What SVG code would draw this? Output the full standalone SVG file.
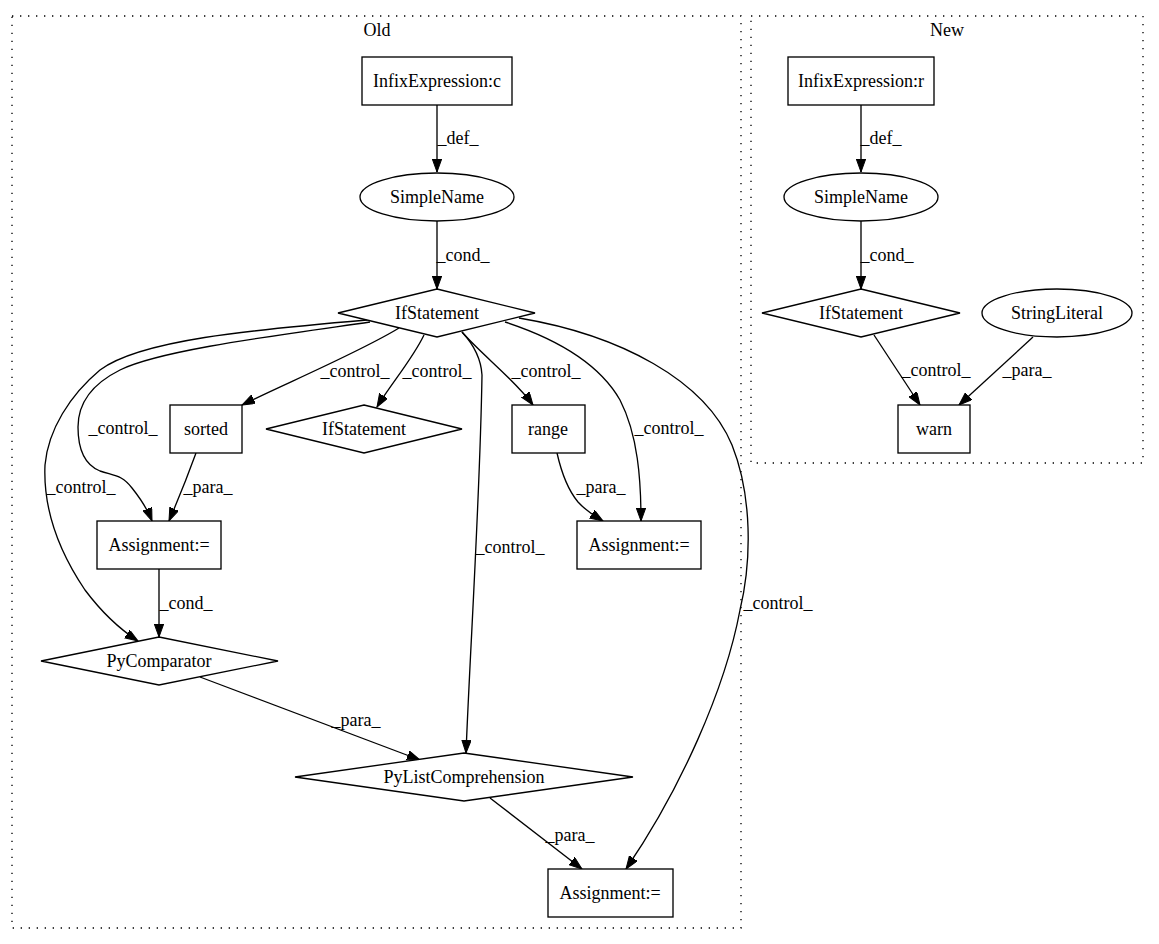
<svg xmlns="http://www.w3.org/2000/svg" width="1159" height="944" viewBox="0 0 1159 944">
<style>
text{font-family:"Liberation Serif","Times New Roman",serif;font-size:18px;fill:#000;text-anchor:middle}
.n{fill:#fff;stroke:#000;stroke-width:1.33}
.c{fill:none;stroke:#000;stroke-width:1.33;stroke-dasharray:1.33,6.67}
.e{fill:none;stroke:#000;stroke-width:1.33;marker-end:url(#a)}
</style>
<defs>
<marker id="a" markerUnits="userSpaceOnUse" markerWidth="14" markerHeight="10" refX="13" refY="4.7" orient="auto">
<path d="M0,0 L13,4.7 L0,9.4 z" fill="#000" stroke="#000" stroke-width="1"/>
</marker>
</defs>
<rect width="1159" height="944" fill="#fff"/>
<g id="cluster_old">
<rect class="c" x="12" y="16" width="729" height="912"/>
<text x="377" y="36">Old</text>
</g>
<g id="cluster_new">
<rect class="c" x="751" y="16" width="392" height="447"/>
<text x="947" y="36">New</text>
</g>
<g id="edges">
<path class="e" d="M437,105 L437,172"/>
<text x="458" y="144">_def_</text>
<path class="e" d="M437,221 L437,289"/>
<text x="463" y="261">_cond_</text>
<path class="e" d="M399,328 C360,352 282,385 242,405"/>
<text x="355" y="377">_control_</text>
<path class="e" d="M424,335 C412,360 390,385 377,407"/>
<text x="437" y="377">_control_</text>
<path class="e" d="M462,332 C482,355 515,380 533,405"/>
<text x="546" y="377">_control_</text>
<path class="e" d="M462,332 C474,345 481,358 482,375 C480,500 470,650 466,753"/>
<text x="510" y="553">_control_</text>
<path class="e" d="M505,322 C560,340 600,365 620,400 C638,435 641,480 641,521"/>
<text x="669" y="434">_control_</text>
<path class="e" d="M519,318 C620,335 705,380 732,445 C752,495 752,560 740,610 C725,690 680,790 626,869"/>
<text x="778" y="609">_control_</text>
<path class="e" d="M370,322 C280,335 160,350 120,370 C90,385 78,405 78,427 C78,450 85,465 100,471 C115,476 122,475 132,488 C140,498 147,508 152,521"/>
<text x="123" y="434">_control_</text>
<path class="e" d="M367,320 C250,330 140,340 100,370 C70,395 48,430 45,465 C43,510 58,550 85,590 C100,610 118,628 138,641"/>
<text x="81" y="493">_control_</text>
<path class="e" d="M196,453 C188,475 178,500 169,521"/>
<text x="208" y="493">_para_</text>
<path class="e" d="M557,453 C562,475 568,490 578,502 C587,512 595,516 603,521"/>
<text x="601" y="493">_para_</text>
<path class="e" d="M159,569 L159,637"/>
<text x="186" y="609">_cond_</text>
<path class="e" d="M200,677 L420,760"/>
<text x="356" y="726">_para_</text>
<path class="e" d="M490,798 L582,869"/>
<text x="570" y="841">_para_</text>
<path class="e" d="M861,105 L861,172"/>
<text x="881" y="144">_def_</text>
<path class="e" d="M861,221 L861,289"/>
<text x="887" y="261">_cond_</text>
<path class="e" d="M874,335 L920,405"/>
<text x="936" y="376">_control_</text>
<path class="e" d="M1033,337 L959,405"/>
<text x="1027" y="376">_para_</text>
</g>
<g id="infix_c">
<rect class="n" x="362" y="57" width="150" height="48"/>
<text x="437" y="87">InfixExpression:c</text>
</g>
<g id="simplename_old">
<ellipse class="n" cx="437" cy="197" rx="77" ry="24"/>
<text x="437" y="203">SimpleName</text>
</g>
<g id="ifstatement_old">
<polygon class="n" points="437,289 535,313 437,337 338,313"/>
<text x="437" y="319">IfStatement</text>
</g>
<g id="sorted">
<rect class="n" x="170" y="405" width="72" height="48"/>
<text x="206" y="435">sorted</text>
</g>
<g id="ifstatement_old2">
<polygon class="n" points="364,405 462,429 364,453 266,429"/>
<text x="364" y="435">IfStatement</text>
</g>
<g id="range">
<rect class="n" x="512" y="405" width="73" height="48"/>
<text x="548" y="435">range</text>
</g>
<g id="assign_left">
<rect class="n" x="97" y="521" width="124" height="48"/>
<text x="159" y="551">Assignment:=</text>
</g>
<g id="assign_right">
<rect class="n" x="577" y="521" width="124" height="48"/>
<text x="639" y="551">Assignment:=</text>
</g>
<g id="pycomparator">
<polygon class="n" points="159,637 278,661 159,685 41,661"/>
<text x="159" y="667">PyComparator</text>
</g>
<g id="pylistcomp">
<polygon class="n" points="464,753 633,777 464,801 295,777"/>
<text x="464" y="783">PyListComprehension</text>
</g>
<g id="assign_bottom">
<rect class="n" x="548" y="869" width="125" height="48"/>
<text x="610" y="899">Assignment:=</text>
</g>
<g id="infix_r">
<rect class="n" x="788" y="57" width="146" height="48"/>
<text x="861" y="87">InfixExpression:r</text>
</g>
<g id="simplename_new">
<ellipse class="n" cx="861" cy="197" rx="77" ry="24"/>
<text x="861" y="203">SimpleName</text>
</g>
<g id="ifstatement_new">
<polygon class="n" points="861,289 960,313 861,337 762,313"/>
<text x="861" y="319">IfStatement</text>
</g>
<g id="stringliteral">
<ellipse class="n" cx="1057" cy="313" rx="75" ry="24"/>
<text x="1057" y="319">StringLiteral</text>
</g>
<g id="warn">
<rect class="n" x="898" y="405" width="72" height="48"/>
<text x="934" y="435">warn</text>
</g>
</svg>
